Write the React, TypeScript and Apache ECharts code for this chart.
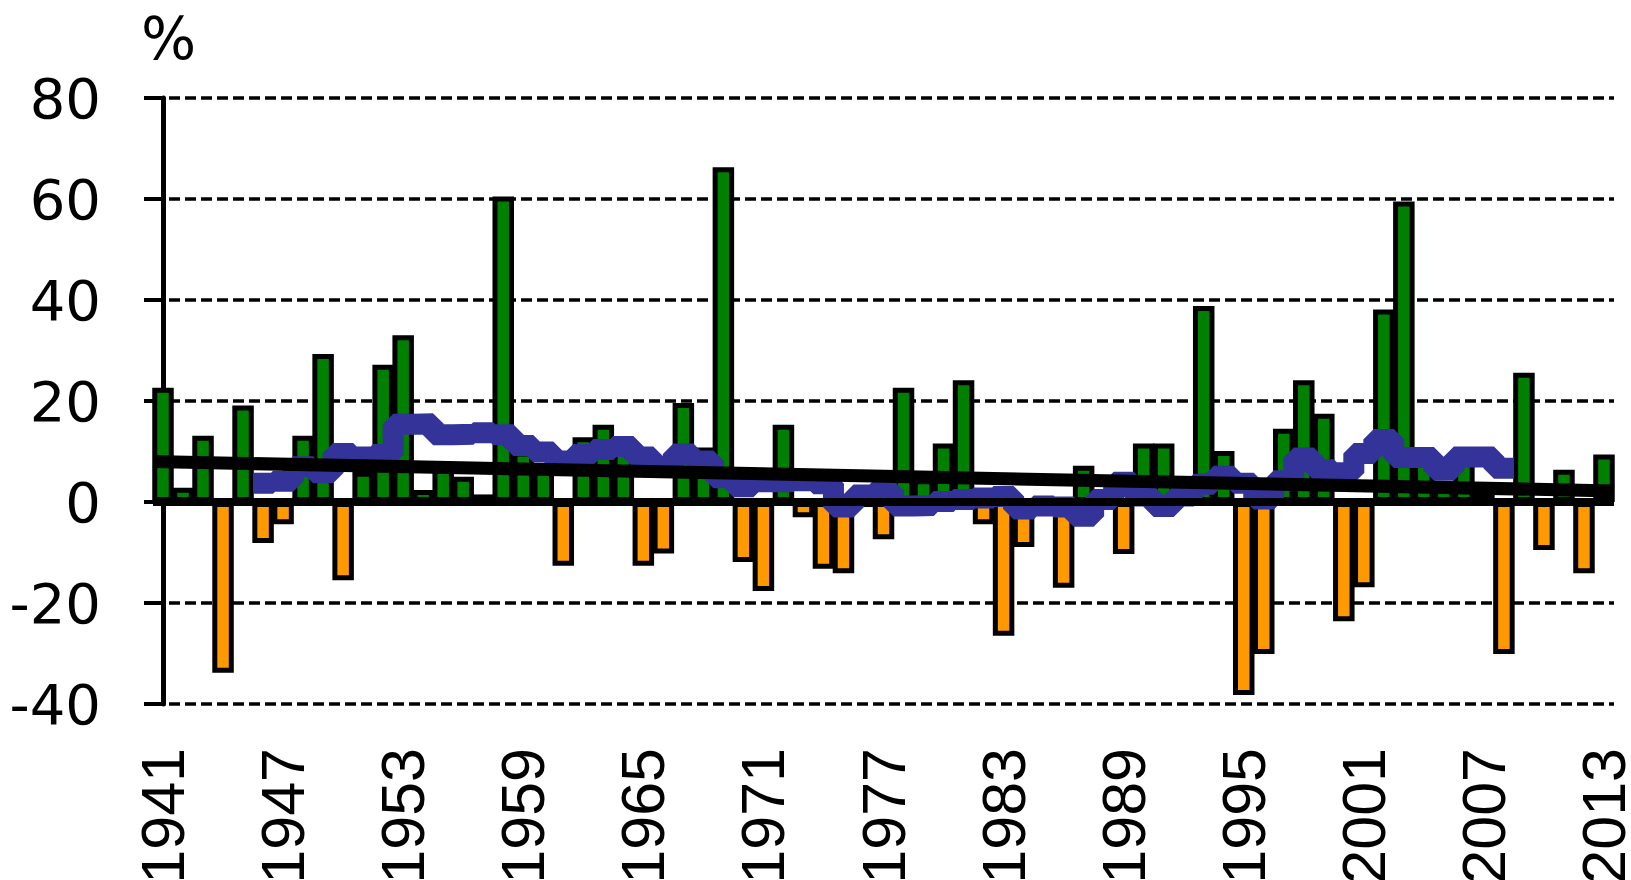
import React, { useEffect, useRef } from "react";
import * as echarts from "echarts";

// Categories: one per year, 1941..2013
const years: string[] = [];
for (let y = 1941; y <= 2013; y++) years.push(String(y));

// Yearly change, % (green when >= 0, orange when < 0)
const changePct: number[] = [
  22.6, 2.8, 13.1, -33.8, 19.1, -8.1, -4.4, 13.1, 29.3, -15.5, // 1941-1950
  6.0, 27.2, 33.0, 2.4, 7.5, 5.0, 1.5, 60.5, 10.0, 6.5, // 1951-1960
  -12.6, 12.8, 15.3, 12.4, -12.6, -10.2, 19.6, 10.8, 66.3, -11.9, // 1961-1970
  -17.6, 15.3, -3.0, -13.2, -14.1, -1.0, -7.4, 22.6, 4.5, 11.6, // 1971-1980
  24.1, -4.4, -26.5, -8.9, -2.0, -17.0, 7.2, 0.0, -10.3, 11.6, // 1981-1990
  11.6, 1.0, 38.8, 10.1, -38.2, -30.1, 14.5, 24.1, 17.5, -23.6, // 1991-2000
  -16.9, 38.1, 59.5, 9.0, 3.5, 8.0, 2.0, -30.1, 25.6, -9.5, // 2001-2010
  6.4, -14.1, 9.4, // 2011-2013
];

// Moving average (blue), 1946..2008
const movingAvgStartYear = "1946";
const movingAvg: number[] = [
  3.7, 4.1, 7.0, 5.8, 9.6, 8.9, 9.4, 15.4, 15.5, 13.3, // 1946-1955
  13.4, 13.7, 13.3, 11.2, 9.9, 8.1, 9.4, 10.4, 11.0, 8.9, // 1956-1965
  7.0, 9.5, 8.1, 4.8, 3.0, 4.0, 4.0, 4.2, 3.6, -1.0, // 1966-1975
  1.4, 2.2, -0.8, -0.7, 0.1, 0.5, 0.8, 1.1, -1.4, -0.8, // 1976-1985
  -1.0, -2.8, 0.5, 3.9, 1.2, -0.9, 1.2, 3.5, 5.1, 3.7, // 1986-1995
  0.6, 4.2, 8.7, 6.4, 5.8, 9.6, 12.4, 8.8, 8.8, 6.3, // 1996-2005
  8.9, 8.9, 6.7, // 2006-2008
];

// Linear trend (black): value at the left edge and at the right edge of the plot
const trendEnds: number[] = [8.0, 2.2];

// Value axis ticks
const yMin = -40;
const yMax = 80;
const yStep = 20;

const GREEN = "#008000";
const ORANGE = "#FF9900";
const BLUE = "#333399";

export default function App() {
  const ref = useRef<HTMLDivElement>(null);

  useEffect(() => {
    if (!ref.current) return;
    const chart = echarts.init(ref.current, null, { renderer: "svg" });
    const n = years.length;
    const maOffset = years.indexOf(movingAvgStartYear);
    const maPoints: number[][] = [];
    movingAvg.forEach((v, k) => {
      const i = maOffset + k;
      maPoints.push([i - 0.5, v], [i + 0.5, v]);
    });
    const trendPoints = [
      [-0.5, trendEnds[0]],
      [n - 0.5, trendEnds[1]],
    ];

    chart.setOption({
      animation: false,
      backgroundColor: "#ffffff",
      textStyle: { fontFamily: "DejaVu Sans" },
      grid: {
        left: 153,
        right: 17,
        top: 98,
        bottom: 176,
        containLabel: false,
        outerBoundsMode: "none",
      },
      graphic: [
        {
          type: "text",
          left: 141,
          top: 10,
          style: { text: "%", fontSize: 58, fontFamily: "DejaVu Sans", fill: "#000" },
        },
      ],
      xAxis: [
        {
          type: "category",
          data: years,
          position: "bottom",
          boundaryGap: true,
          axisLine: { show: false },
          axisTick: { show: false },
          splitLine: { show: false },
          axisLabel: {
            interval: 5,
            rotate: 90,
            margin: 44,
            fontSize: 61,
            color: "#000",
            fontFamily: "Liberation Sans",
          },
        },
        {
          type: "value",
          min: -0.5,
          max: n - 0.5,
          show: false,
        },
      ],
      yAxis: {
        type: "value",
        min: yMin,
        max: yMax,
        interval: yStep,
        axisLine: { show: true, lineStyle: { color: "#000", width: 5 } },
        axisTick: { show: true, inside: false, length: 19, lineStyle: { color: "#000", width: 4 } },
        axisLabel: { fontSize: 56, color: "#000", margin: 52, fontFamily: "DejaVu Sans" },
        splitLine: { show: true, lineStyle: { color: "#000", width: 3.5, type: [11, 5] } },
      },
      series: [
        {
          type: "bar",
          data: changePct,
          xAxisIndex: 0,
          barWidth: 21.5,
          z: 2,
          itemStyle: {
            color: (p: any) => (p.value >= 0 ? GREEN : ORANGE),
            borderColor: "#000",
            borderWidth: 5,
          },
          markLine: {
            silent: true,
            symbol: "none",
            label: { show: false },
            lineStyle: { color: "#000", width: 8, type: "solid" },
            data: [{ yAxis: 0 }],
            z: 5,
          },
        },
        {
          type: "line",
          xAxisIndex: 1,
          data: maPoints,
          showSymbol: false,
          symbol: "none",
          z: 3,
          lineStyle: { color: BLUE, width: 21, cap: "butt", join: "bevel" },
        },
        {
          type: "line",
          xAxisIndex: 1,
          data: trendPoints,
          showSymbol: false,
          symbol: "none",
          z: 4,
          lineStyle: { color: "#000", width: 13, cap: "butt" },
        },
      ],
    });
    return () => chart.dispose();
  }, []);

  return (
    <div
      ref={ref}
      style={{ position: "absolute", left: 0, top: 0, width: 1631, height: 880 }}
    />
  );
}
